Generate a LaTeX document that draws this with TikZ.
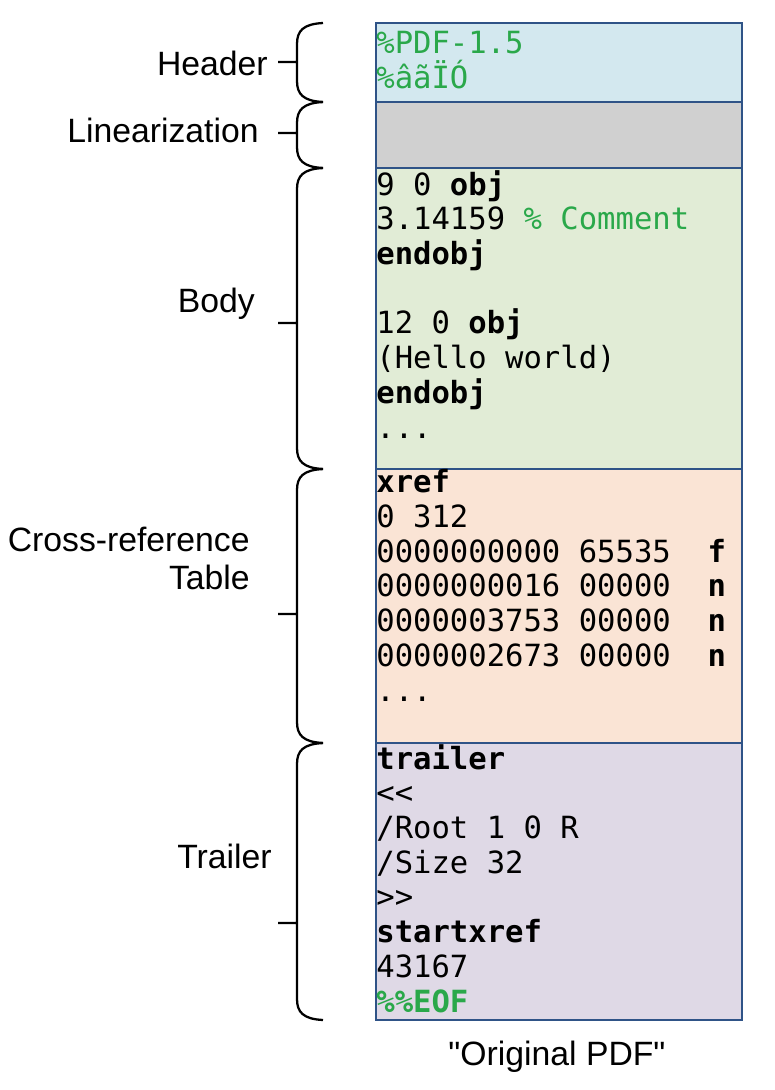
\documentclass[tikz,border=0pt]{standalone}
\usepackage{fontspec}
\setmainfont{Liberation Sans}[Ligatures=TeXOff]
\setmonofont{DejaVu Sans Mono}
\usepackage{tikz}
\usetikzlibrary{positioning}
\definecolor{colorBorde}{HTML}{2F5387}
\definecolor{fondoHeader}{HTML}{D3E8EF}
\definecolor{fondoLinear}{HTML}{D0D0D0}
\definecolor{fondoBody}{HTML}{E1ECD6}
\definecolor{fondoXref}{HTML}{FAE4D5}
\definecolor{fondoTrailer}{HTML}{DFD9E6}
\definecolor{verdeComent}{HTML}{2AA84A}

\begin{document}
\begin{tikzpicture}[x=0.02cm, y=-0.02cm,
        seccion/.style={draw=colorBorde, line width=1.4pt},
        codigo/.style={anchor=base west, inner sep=0pt, align=left,
            font=\ttfamily\fontsize{17.4}{19.75}\selectfont},
        etiqueta/.style={anchor=base east, inner sep=0pt, align=right,
            font=\fontsize{19.2}{21.6}\selectfont},
        llave/.style={line width=1.3pt, black}]
        \useasboundingbox (0,0) rectangle (775,1090);
        \foreach \ya/\yb/\col in {23/102/fondoHeader, 102/168/fondoLinear, 168/469/fondoBody,
            469/743/fondoXref, 743/1020/fondoTrailer}
            \draw[seccion, fill=\col] (376,\ya) rectangle (742,\yb);
        % base = baseline of the last line
        \node[codigo] (hdr) at (376,88) {\color{verdeComent}\%PDF-1.5\\\color{verdeComent}\%âãÏÓ};
        \node[codigo] (body) at (376,438) {9 0 \textbf{obj}\\3.14159 {\color{verdeComent}\% Comment}\\\textbf{endobj}\\\mbox{}\\
            12 0 \textbf{obj}\\(Hello world)\\\textbf{endobj}\\...};
        \node[codigo] (xref) at (376,701) {\textbf{xref}\\0 312\\0000000000 65535~~\textbf{f}\\0000000016 00000~~\textbf{n}\\
            0000003753 00000~~\textbf{n}\\0000002673 00000~~\textbf{n}\\...};
        \node[codigo] (trl) at (376,1012) {\textbf{trailer}\\<<\\/Root 1 0 R\\/Size 32\\>>\\\textbf{startxref}\\43167\\
            \color{verdeComent}\textbf{\%\%EOF}};
        \node[etiqueta] (lHeader) at (268,75) {Header};
        \node[etiqueta] (lLinear) at (259,142) {Linearization};
        \node[etiqueta] (lBody) at (255,312) {Body};
        \node[etiqueta] (lXref) at (250,589) {Cross-reference\\Table};
        \node[etiqueta] (lTrailer) at (272,868) {Trailer};
        \node[font=\fontsize{19.2}{21.6}\selectfont, anchor=base, inner sep=0pt] (titulo) at (557,1065)
            {"Original PDF"};
        \foreach \ya/\yb/\yt in {23/102/62, 102/168/133, 168/469/323, 469/743/614, 743/1020/923}
            \draw[llave] (323,\ya) .. controls (303,\ya+1) and (297,\ya+8) .. (297,\ya+21) -- (297,\yb-21)
                .. controls (297,\yb-8) and (303,\yb-1) .. (323,\yb) (297,\yt) -- (278,\yt);
    \end{tikzpicture}
\end{document}
